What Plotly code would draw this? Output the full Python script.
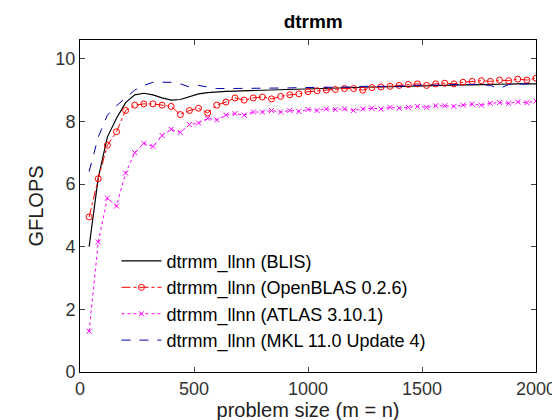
import plotly.graph_objects as go

# problem sizes
sizes = list(range(40, 2001, 40))

blis = [4.0, 6.2, 7.5, 8.1, 8.6, 8.85, 8.9, 8.85, 8.75, 8.68,
        8.7, 8.8, 8.88, 8.92, 8.95, 8.96, 8.97, 8.98, 8.99, 9.0,
        9.0, 9.01, 9.02, 9.02, 9.03, 9.04, 9.05, 9.06, 9.07, 9.08,
        9.09, 9.1, 9.1, 9.11, 9.12, 9.13, 9.14, 9.15, 9.15, 9.16,
        9.16, 9.17, 9.17, 9.18, 9.18, 9.19, 9.19, 9.2, 9.2, 9.2]
openblas = [4.95, 6.17, 7.24, 7.67, 8.35, 8.52, 8.56, 8.56, 8.52, 8.48,
            8.22, 8.35, 8.42, 8.27, 8.52, 8.62, 8.75, 8.68, 8.75, 8.78,
            8.72, 8.8, 8.85, 8.88, 8.95, 8.98, 9.0, 9.02, 9.05, 9.05,
            9.0, 9.08, 9.1, 9.12, 9.15, 9.18, 9.2, 9.15, 9.2, 9.22,
            9.2, 9.25, 9.28, 9.3, 9.28, 9.32, 9.3, 9.35, 9.32, 9.38]
atlas = [1.3, 4.15, 5.55, 5.3, 6.35, 7.0, 7.3, 7.2, 7.55, 7.75,
         7.65, 7.9, 7.95, 8.1, 8.05, 8.2, 8.25, 8.2, 8.3, 8.3,
         8.35, 8.3, 8.35, 8.32, 8.38, 8.35, 8.4, 8.38, 8.4, 8.35,
         8.4, 8.42, 8.4, 8.45, 8.42, 8.45, 8.48, 8.45, 8.5, 8.5,
         8.48, 8.52, 8.55, 8.52, 8.58, 8.6, 8.58, 8.62, 8.6, 8.65]
mkl = [6.4, 7.5, 8.2, 8.5, 8.75, 9.0, 9.15, 9.25, 9.25, 9.25,
       9.2, 9.1, 9.15, 9.1, 9.05, 9.05, 9.05, 9.05, 9.05, 9.05,
       9.05, 9.06, 9.07, 9.08, 9.08, 9.1, 9.1, 9.1, 9.08, 9.1,
       9.12, 9.12, 9.1, 9.12, 9.12, 9.15, 9.15, 9.15, 9.16, 9.16,
       9.18, 9.18, 9.18, 9.18, 9.15, 9.05, 9.18, 9.2, 9.2, 9.2]

fig = go.Figure()
fig.add_trace(go.Scatter(x=sizes, y=blis, mode='lines', name='dtrmm_llnn (BLIS)',
                         line=dict(color='black', width=1.2)))
fig.add_trace(go.Scatter(x=sizes, y=openblas, mode='lines+markers', name='dtrmm_llnn (OpenBLAS 0.2.6)',
                         line=dict(color='red', width=1, dash='dashdot'),
                         marker=dict(symbol='circle-open', size=6, color='red')))
fig.add_trace(go.Scatter(x=sizes, y=atlas, mode='lines+markers', name='dtrmm_llnn (ATLAS 3.10.1)',
                         line=dict(color='magenta', width=1, dash='dot'),
                         marker=dict(symbol='x-thin-open', size=5, color='magenta', line=dict(color='magenta', width=1))))
fig.add_trace(go.Scatter(x=sizes, y=mkl, mode='lines', name='dtrmm_llnn (MKL 11.0 Update 4)',
                         line=dict(color='#0000aa', width=1, dash='dash')))

axis = dict(showgrid=False, zeroline=False, showline=True, linecolor='black', mirror='ticks',
            ticks='inside', ticklen=5, tickfont=dict(size=18, color='#333'))
fig.update_layout(
    width=560, height=420, plot_bgcolor='white', paper_bgcolor='white',
    margin=dict(l=72, r=23, t=32, b=56),
    font=dict(family='Liberation Sans, Arial', color='#222'),
    title=dict(text='<b>dtrmm</b>', x=0.545, xanchor='center', y=0.985, yanchor='top', font=dict(size=19, color='black')),
    xaxis=dict(axis, range=[0, 2000], tickvals=[0, 500, 1000, 1500, 2000],
               title=dict(text='problem size (m = n)', font=dict(size=20), standoff=2)),
    yaxis=dict(axis, range=[0, 10.6], tickvals=[0, 2, 4, 6, 8, 10],
               title=dict(text='GFLOPS', font=dict(size=20), standoff=6)),
    legend=dict(x=0.08, y=0.04, xanchor='left', yanchor='bottom', bgcolor='white',
                font=dict(size=18, color='black'), tracegroupgap=0, itemwidth=40),
)
fig.write_html("out.html")
